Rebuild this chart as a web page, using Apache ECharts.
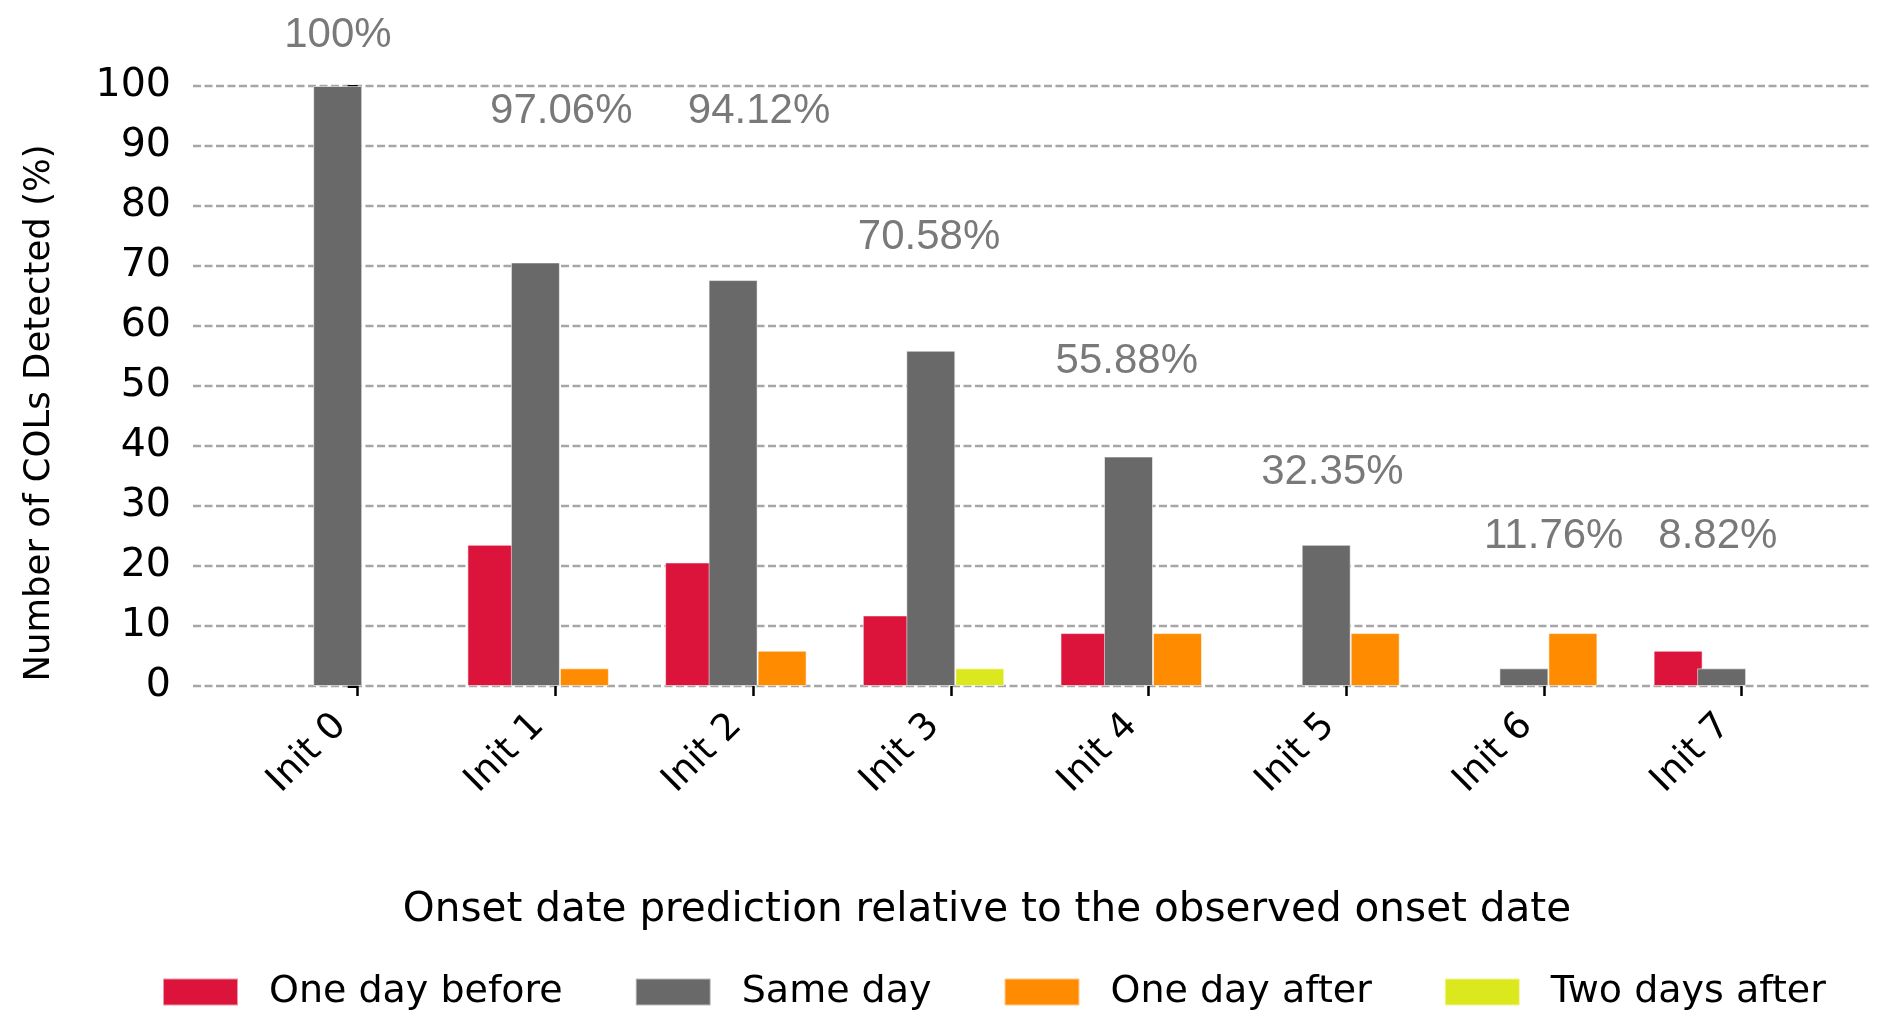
<!DOCTYPE html>
<html>
<head>
<meta charset="utf-8">
<script src="https://cdn.jsdelivr.net/npm/echarts@6/dist/echarts.min.js"></script>
<style>
html,body{margin:0;padding:0;background:#fff;}
#chart{width:1892px;height:1030px;}
</style>
</head>
<body>
<div id="chart"></div>
<script>
const categories = ['Init 0', 'Init 1', 'Init 2', 'Init 3', 'Init 4', 'Init 5', 'Init 6', 'Init 7'];
const seriesNames = ['One day before', 'Same day', 'One day after', 'Two days after'];
const oneDayBefore = [0, 23.53, 20.59, 11.76, 8.82, 0, 0, 5.88];
const sameDay = [100, 70.59, 67.65, 55.88, 38.24, 23.53, 2.94, 2.94];
const oneDayAfter = [0, 2.94, 5.88, 0, 8.82, 8.82, 8.82, 0];
const twoDaysAfter = [0, 0, 0, 2.94, 0, 0, 0, 0];
const totalLabels = ['100%', '97.06%', '94.12%', '70.58%', '55.88%', '32.35%', '11.76%', '8.82%'];
const totalLabelX = [-0.1, 1.03, 2.03, 2.89, 3.89, 4.93, 6.05, 6.88];
const totalLabelY = [108.4, 95.7, 95.7, 74.8, 54.1, 35.6, 24.9, 24.9];
const yMin = 0, yMax = 100, yStep = 10;
const xTitle = 'Onset date prediction relative to the observed onset date';
const yTitle = 'Number of COLs Detected (%)';

const colors = ['#DC143C', '#696969', '#FF8C00', '#DCE81E'];
const FONT = 'DejaVu Sans';
const TOP = 86, BOTTOM = 344;
const TICK_X0 = 357.7, BAND = 197.7;
const mainLeft = TICK_X0 - BAND / 2;
const mainRight = 1892 - (mainLeft + BAND * categories.length);
function shiftedGrid(dx) {
  return { left: mainLeft + dx, right: mainRight - dx, top: TOP, bottom: BOTTOM, outerBoundsMode: 'none' };
}
const gridA = { left: 193, right: 21, top: TOP, bottom: BOTTOM, outerBoundsMode: 'none' };
const aMin = -(TICK_X0 - 193) / BAND;
const aMax = aMin + (1892 - 21 - 193) / BAND;

function hiddenY(gi) {
  return { type: 'value', gridIndex: gi, min: yMin, max: yMax, interval: yStep, show: false };
}
function hiddenCat(gi) {
  return { type: 'category', gridIndex: gi, data: categories, show: false };
}
const nz = arr => arr.map(v => (v === 0 ? '-' : v));
const barBorder = { borderColor: 'rgba(255,255,255,0.55)', borderWidth: 1 };

const chart = echarts.init(document.getElementById('chart'), null, { renderer: 'canvas' });
chart.setOption({
  backgroundColor: '#ffffff',
  animation: false,
  color: colors,
  grid: [gridA, shiftedGrid(0), shiftedGrid(-17), shiftedGrid(-63.5), shiftedGrid(4.5)],
  xAxis: [
    { type: 'value', gridIndex: 0, min: aMin, max: aMax, show: false },
    {
      type: 'category', gridIndex: 1, data: categories,
      axisLine: { show: false },
      axisTick: { show: true, inside: false, alignWithLabel: true, length: 10, lineStyle: { color: '#000', width: 2.5 } },
      axisLabel: { show: false },
      splitLine: { show: false }
    },
    {
      type: 'category', gridIndex: 2, data: categories,
      axisLine: { show: false },
      axisTick: { show: false },
      splitLine: { show: false },
      axisLabel: { show: true, interval: 0, rotate: 45, margin: 34, fontFamily: FONT, fontSize: 37, color: '#000' }
    },
    hiddenCat(3),
    hiddenCat(4)
  ],
  yAxis: [
    {
      type: 'value', gridIndex: 0, min: yMin, max: yMax, interval: yStep,
      axisLine: { show: false },
      axisTick: { show: true, inside: false, length: 10, lineStyle: { color: '#000', width: 3 } },
      axisLabel: { show: true, margin: 22, fontFamily: FONT, fontSize: 39.5, color: '#000' },
      splitLine: { show: true, lineStyle: { type: [8, 3.5], color: '#a6a6a6', width: 2.4 } }
    },
    hiddenY(1), hiddenY(2), hiddenY(3), hiddenY(4)
  ],
  legend: {
    data: seriesNames,
    left: 162,
    top: 972,
    padding: 0,
    itemGap: 72,
    itemWidth: 75,
    itemHeight: 27,
    icon: 'rect',
    selectedMode: false,
    textStyle: { fontFamily: FONT, fontSize: 38, color: '#000', padding: [0, 0, 0, 26], lineHeight: 40 }
  },
  graphic: [
    {
      type: 'text', x: 987, y: 910, silent: true,
      style: { text: xTitle, font: '40.5px "DejaVu Sans"', fill: '#000', align: 'center', verticalAlign: 'middle', textAlign: 'center', textVerticalAlign: 'middle' }
    },
    {
      type: 'text', x: 40, y: 413, rotation: Math.PI / 2, silent: true,
      style: { text: yTitle, font: '35.5px "DejaVu Sans"', fill: '#000', align: 'center', verticalAlign: 'middle', textAlign: 'center', textVerticalAlign: 'middle' }
    }
  ],
  series: [
    {
      name: seriesNames[0], type: 'bar', xAxisIndex: 3, yAxisIndex: 3,
      barWidth: 49, data: nz(oneDayBefore), itemStyle: Object.assign({ color: colors[0] }, barBorder)
    },
    {
      name: seriesNames[1], type: 'bar', xAxisIndex: 4, yAxisIndex: 4,
      barWidth: 49, barGap: '0%', data: nz(sameDay), itemStyle: Object.assign({ color: colors[1] }, barBorder)
    },
    {
      name: seriesNames[2], type: 'bar', xAxisIndex: 4, yAxisIndex: 4, stack: 'after',
      barWidth: 49, barGap: '0%', data: nz(oneDayAfter), itemStyle: Object.assign({ color: colors[2] }, barBorder)
    },
    {
      name: seriesNames[3], type: 'bar', xAxisIndex: 4, yAxisIndex: 4, stack: 'after',
      barWidth: 49, barGap: '0%', data: nz(twoDaysAfter), itemStyle: Object.assign({ color: colors[3] }, barBorder)
    },
    {
      name: 'totals', type: 'scatter', xAxisIndex: 0, yAxisIndex: 0,
      symbolSize: 0, clip: false, silent: true,
      data: totalLabels.map((t, i) => [totalLabelX[i], totalLabelY[i], t]),
      label: {
        show: true, position: 'inside',
        formatter: p => p.value[2],
        fontFamily: 'Liberation Sans', fontSize: 42, color: '#585858'
      }
    }
  ]
});
</script>
</body>
</html>
